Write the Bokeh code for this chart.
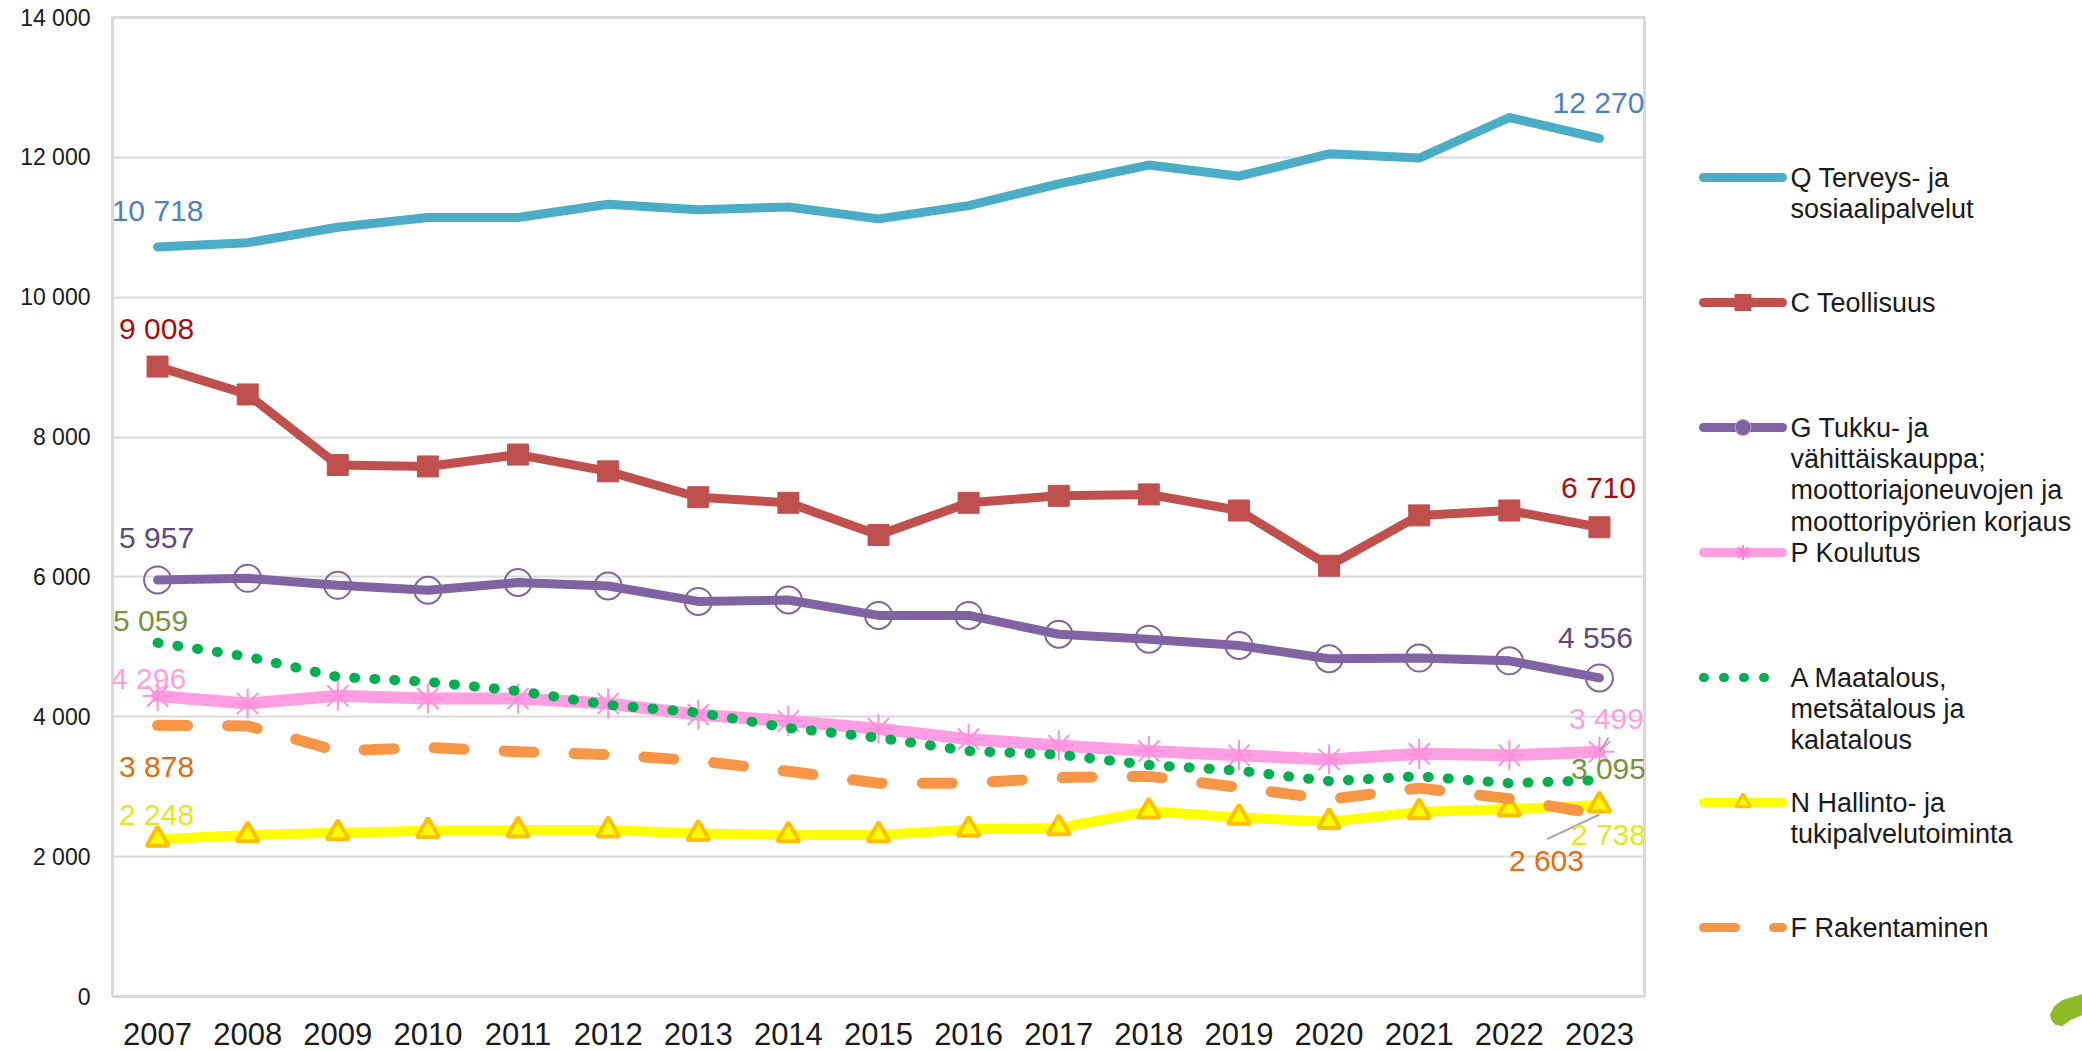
from bokeh.plotting import figure
from bokeh.layouts import row, column
from bokeh.models import Label, Range1d, FixedTicker
from bokeh.core.properties import value
from bokeh.embed import file_html
from bokeh.resources import INLINE

years = list(range(2007, 2024))
q = [10718, 10780, 11000, 11140, 11140, 11330, 11250, 11290, 11120, 11310, 11620, 11890, 11730, 12050, 11990, 12570, 12270]
c = [9008, 8610, 7600, 7580, 7750, 7510, 7140, 7060, 6600, 7060, 7160, 7180, 6950, 6160, 6880, 6950, 6710]
g = [5957, 5980, 5880, 5810, 5920, 5870, 5650, 5670, 5450, 5450, 5180, 5110, 5020, 4830, 4840, 4800, 4556]
pk = [4296, 4190, 4300, 4260, 4260, 4190, 4030, 3940, 3830, 3680, 3590, 3510, 3450, 3390, 3470, 3450, 3499]
a = [5059, 4860, 4570, 4500, 4370, 4170, 4060, 3840, 3700, 3510, 3460, 3310, 3230, 3080, 3150, 3050, 3095]
n = [2248, 2310, 2340, 2370, 2380, 2380, 2330, 2310, 2310, 2390, 2410, 2650, 2560, 2500, 2640, 2680, 2738]
f = [3878, 3870, 3510, 3560, 3500, 3460, 3370, 3220, 3050, 3050, 3130, 3150, 2990, 2820, 2980, 2830, 2603]
yticks = [0, 2000, 4000, 6000, 8000, 10000, 12000, 14000]
ylabels = ["0", "2 000", "4 000", "6 000", "8 000", "10 000", "12 000", "14 000"]

FONT = "Liberation Sans"
H = 1051
TOP, BOTTOM = 17, 55
p = figure(width=1680, height=H, output_backend="svg", toolbar_location=None,
           x_range=Range1d(2006.5, 2023.5), y_range=Range1d(0, 14000),
           min_border_left=112, min_border_right=36, min_border_top=TOP, min_border_bottom=BOTTOM)
p.background_fill_color = "white"
p.outline_line_color = "#D9D9D9"
p.outline_line_width = 3
p.xgrid.visible = False
p.ygrid.grid_line_color = "#D9D9D9"
p.ygrid.grid_line_width = 2
p.ygrid.ticker = FixedTicker(ticks=yticks)
p.yaxis.ticker = FixedTicker(ticks=yticks)
p.xaxis.ticker = FixedTicker(ticks=years)
p.yaxis.major_label_overrides = {t: l for t, l in zip(yticks, ylabels)}
p.xaxis.major_label_overrides = {y: str(y) for y in years}
for ax in (p.xaxis, p.yaxis):
    ax.axis_line_color = None
    ax.major_tick_line_color = None
    ax.minor_tick_line_color = None
    ax.major_label_text_font = FONT
    ax.major_label_text_color = "#1a1a1a"
p.yaxis.major_label_text_font_size = "23px"
p.yaxis.major_label_standoff = 16
p.xaxis.major_label_standoff = 20
p.xaxis.major_label_text_font_size = "31px"

TEAL = "#4BACC6"; RED = "#C0504D"; PURPLE = "#8064A2"; PINK = "#FF9FE3"
GREEN = "#00B050"; YELLOW = "#FFFF00"; ORANGE = "#F79646"; AMBER = "#FFC000"

p.line(years, q, line_color=TEAL, line_width=9, line_cap="round", line_join="round")
p.line(years, c, line_color=RED, line_width=9, line_cap="round", line_join="round")
p.scatter(years, c, marker="square", size=21, fill_color=RED, line_color=RED)
p.line(years, g, line_color=PURPLE, line_width=9, line_cap="round", line_join="round")
p.scatter(years, g, marker="circle", size=27, fill_color=None, line_color=PURPLE, line_width=2)
p.line(years, pk, line_color=PINK, line_width=12, line_cap="round", line_join="round")
p.scatter(years, pk, marker="asterisk", size=30, line_color="#FF8FDC", line_width=2)
p.line(years, n, line_color=YELLOW, line_width=10, line_cap="round", line_join="round")
p.scatter(years, n, marker="triangle", size=22, fill_color=YELLOW, line_color=AMBER, line_width=4)
p.line(years, f, line_color=ORANGE, line_width=11, line_cap="round", line_join="round", line_dash="30 40")
p.line(years, a, line_color=GREEN, line_width=10, line_cap="round", line_join="round", line_dash="1 19")

# leader lines from the last points to their labels
p.segment([2023], [pk[-1]], [2023.1], [3700], line_color="#A6A6A6", line_width=2)
p.segment([2023], [f[-1]], [2022.42], [2250], line_color="#A6A6A6", line_width=2)

labels = [
    ("10 718", years[0], q[0], 0, 37, "#4F81BD"),
    ("9 008", years[0], c[0], -1, 38, "#A50E0E"),
    ("5 957", years[0], g[0], -1, 42, "#604A7B"),
    ("5 059", years[0], a[0], -7, 22, "#77933C"),
    ("4 296", years[0], pk[0], -9, 18, "#FF9FE3"),
    ("3 878", years[0], f[0], -1, -41, "#E46C0A"),
    ("2 248", years[0], n[0], -1, 25, "#E6E619"),
    ("12 270", years[-1], q[-1], -1, 36, "#4F81BD"),
    ("6 710", years[-1], c[-1], -1, 40, "#A50E0E"),
    ("4 556", years[-1], g[-1], -4, 40, "#604A7B"),
    ("3 499", years[-1], pk[-1], 7, 33, "#FF9FE3"),
    ("3 095", years[-1], a[-1], 9, 12, "#77933C"),
    ("2 738", years[-1], n[-1], 9, -29, "#E6E619"),
    ("2 603", years[-1], f[-1], -53, -46, "#E46C0A"),
]
for txt, x, y, dx, dy, col in labels:
    p.add_layout(Label(x=x, y=y, x_offset=dx, y_offset=dy, text=txt, text_color=col,
                       text_font=FONT, text_font_size="30px", text_align="center",
                       text_baseline="middle"))

# legend panel: a second figure measured in page pixels
L0 = 1680
lg = figure(width=402, height=H, output_backend="svg", toolbar_location=None,
            x_range=Range1d(L0, L0 + 402), y_range=Range1d(H, 0),
            min_border=0, x_axis_location=None, y_axis_location=None)
lg.outline_line_color = None
lg.grid.visible = False

legend_names = [
    ["Q Terveys- ja", "sosiaalipalvelut"],
    ["C Teollisuus"],
    ["G Tukku- ja", "vähittäiskauppa;", "moottoriajoneuvojen ja", "moottoripyörien korjaus"],
    ["P Koulutus"],
    ["A Maatalous,", "metsätalous ja", "kalatalous"],
    ["N Hallinto- ja", "tukipalvelutoiminta"],
    ["F Rakentaminen"],
]
rows_y = [177, 302, 427, 552, 677, 802, 927]
X0, X1, XT = 1703, 1782, 1790
LINE_H = 31.4
styles = [
    dict(line_color=TEAL, line_width=9),
    dict(line_color=RED, line_width=9),
    dict(line_color=PURPLE, line_width=9),
    dict(line_color=PINK, line_width=9),
    dict(line_color=GREEN, line_width=9, line_dash="1 19"),
    dict(line_color=YELLOW, line_width=9),
    dict(line_color=ORANGE, line_width=9, line_dash="32 38"),
]
for yy, st, names in zip(rows_y, styles, legend_names):
    lg.line([X0, X1], [yy, yy], line_cap="round", **st)
    for i, t in enumerate(names):
        lg.text([XT], [yy + i * LINE_H], text=[t], text_font=value(FONT), text_font_size="27px",
                text_color="#1a1a1a", text_baseline="middle", text_align="left")
XM = (X0 + X1) / 2
lg.scatter([XM], [rows_y[1]], marker="square", size=16, fill_color=RED, line_color=RED)
lg.scatter([XM], [rows_y[2]], marker="circle", size=16, fill_color=PURPLE, line_color="#B9A8D0", line_width=1)
lg.scatter([XM], [rows_y[3]], marker="asterisk", size=15, line_color="#FF7FD6", line_width=2)
lg.scatter([XM], [rows_y[5]], marker="triangle", size=15, fill_color=YELLOW, line_color=AMBER, line_width=3)

# the corner of the page's logo
logo_x = [2050, 2054, 2062, 2072, 2082, 2082, 2070, 2062, 2055, 2051]
logo_y = [1014, 1006, 1000, 997, 994, 1014, 1019, 1025, 1024, 1019]
lg.patch(logo_x, logo_y, fill_color="#8DBB25", line_color="#8DBB25")

page = row(p, column(lg, spacing=0), spacing=0)
open("out.html", "w").write(file_html(page, INLINE))
